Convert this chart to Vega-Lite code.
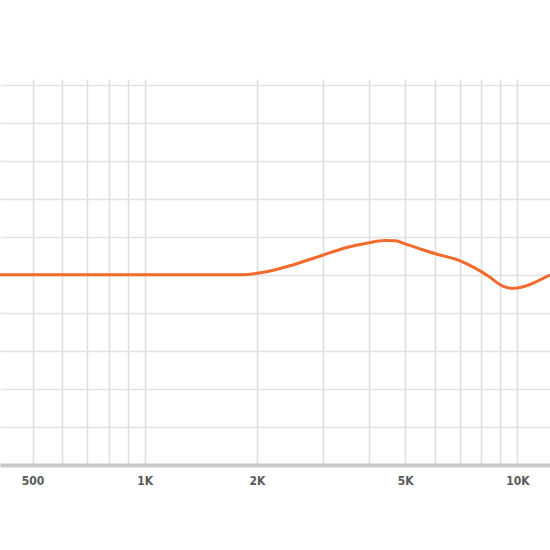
{
  "$schema": "https://vega.github.io/schema/vega-lite/v6.json",
  "background": "white",
  "autosize": "none",
  "width": 550,
  "height": 386,
  "padding": {"top": 79, "left": 0, "right": 0, "bottom": 85},
  "config": {"view": {"stroke": null}},
  "data": {
    "values": [
      {"freq": 408.8, "gain": 0},
      {"freq": 700, "gain": 0},
      {"freq": 1000, "gain": 0},
      {"freq": 1500, "gain": 0},
      {"freq": 1850, "gain": 0},
      {"freq": 2000, "gain": 0.08},
      {"freq": 2168, "gain": 0.2},
      {"freq": 2453, "gain": 0.48},
      {"freq": 3000, "gain": 1.03},
      {"freq": 3340, "gain": 1.33},
      {"freq": 3665, "gain": 1.54},
      {"freq": 4000, "gain": 1.69},
      {"freq": 4400, "gain": 1.81},
      {"freq": 4700, "gain": 1.8},
      {"freq": 5000, "gain": 1.63},
      {"freq": 5480, "gain": 1.37},
      {"freq": 6000, "gain": 1.12},
      {"freq": 7000, "gain": 0.75},
      {"freq": 7460, "gain": 0.5},
      {"freq": 8000, "gain": 0.17},
      {"freq": 8445, "gain": -0.13},
      {"freq": 9000, "gain": -0.52},
      {"freq": 9380, "gain": -0.67},
      {"freq": 9750, "gain": -0.71},
      {"freq": 10000, "gain": -0.69},
      {"freq": 10485, "gain": -0.6},
      {"freq": 11270, "gain": -0.35},
      {"freq": 12236, "gain": 0}
    ]
  },
  "mark": {"type": "line", "color": "#f26a2c", "strokeWidth": 3, "interpolate": "monotone", "clip": true},
  "encoding": {
    "x": {
      "field": "freq",
      "type": "quantitative",
      "scale": {"type": "log", "domain": [408.8, 12236], "nice": false},
      "axis": {
        "title": null,
        "values": [500, 600, 700, 800, 900, 1000, 2000, 3000, 4000, 5000, 6000, 7000, 8000, 9000, 10000],
        "labelExpr": "datum.value == 500 ? '500' : datum.value == 1000 ? '1K' : datum.value == 2000 ? '2K' : datum.value == 5000 ? '5K' : datum.value == 10000 ? '10K' : ''",
        "ticks": false,
        "grid": true,
        "gridColor": "#dddddd",
        "gridWidth": 1.5,
        "domainColor": "#c8c8c8",
        "domainWidth": 4,
        "labelFont": "DejaVu Sans Condensed",
        "labelFontWeight": "bold",
        "labelFontSize": 12,
        "labelColor": "#5a5a5a",
        "labelPadding": 10,
        "labelOverlap": false
      }
    },
    "y": {
      "field": "gain",
      "type": "quantitative",
      "scale": {"domain": [-10, 10.3], "nice": false, "zero": false},
      "axis": {
        "title": null,
        "values": [-10, -8, -6, -4, -2, 0, 2, 4, 6, 8, 10],
        "labels": false,
        "ticks": false,
        "domain": false,
        "grid": true,
        "gridColor": "#e2e2e2",
        "gridWidth": 1.5
      }
    }
  }
}
